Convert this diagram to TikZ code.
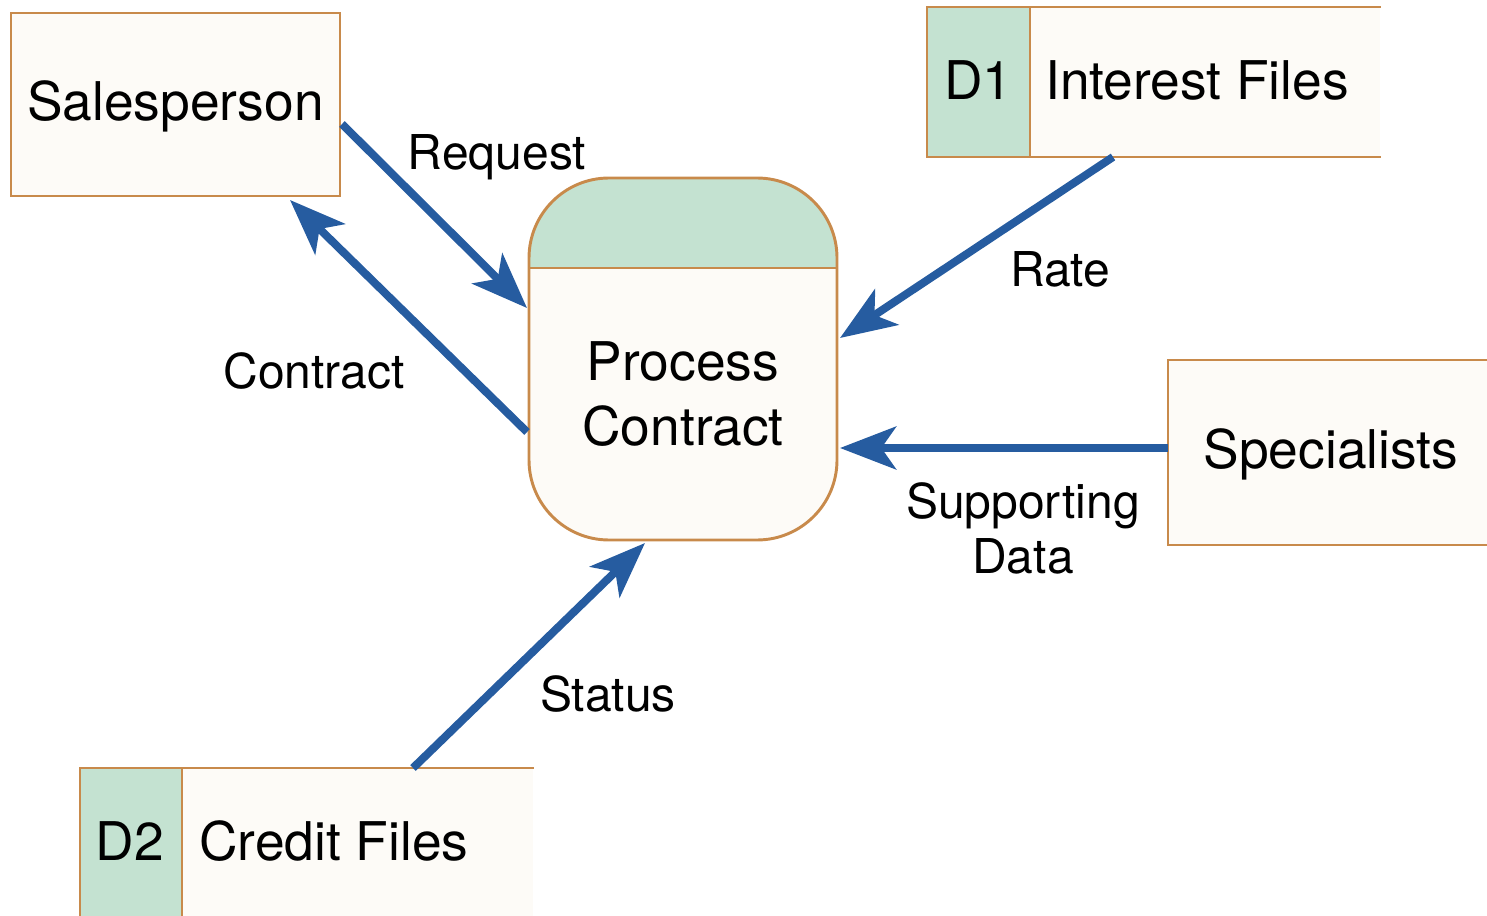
\documentclass[tikz,border=0pt]{standalone}
\usepackage{fontspec}
\setmainfont{TeX Gyre Heros}
\usetikzlibrary{arrows.meta}

\definecolor{boxline}{RGB}{200,138,75}
\definecolor{boxfill}{RGB}{253,251,247}
\definecolor{idfill}{RGB}{196,226,209}
\definecolor{flowblue}{RGB}{38,92,160}

\tikzset{
  big/.style={font=\fontsize{40}{48.75}\selectfont, inner sep=0pt, align=center},
  lbl/.style={font=\fontsize{36}{41.25}\selectfont, inner sep=0pt, align=center},
  flow/.style={draw=flowblue, line width=6pt, -{Stealth[length=42pt,width=32pt,inset=11pt]}},
  boxedge/.style={draw=boxline, line width=2.2pt},
}

\begin{document}
\begin{tikzpicture}[x=0.75pt,y=0.75pt,yscale=-1,xscale=1]
\useasboundingbox (0,0) rectangle (1487,916);
\clip (0,0) rectangle (1487,916);

%Shape: Rectangle [Salesperson]
\draw [boxedge, fill=boxfill] (11,13) rectangle (340,196);
%Shape: Rectangle [Specialists]
\draw [boxedge, fill=boxfill] (1168,360) rectangle (1510,545);
%Shape: Store [D1]
\fill [boxfill] (927,7) rectangle (1380,157);
\draw [boxedge, fill=idfill] (1030,7) -- (927,7) -- (927,157) -- (1030,157) -- cycle;
\draw [boxedge] (1030,7) -- (1381,7) (1030,157) -- (1381,157);
%Shape: Store [D2]
\fill [boxfill] (80,768) rectangle (533,940);
\draw [boxedge, fill=idfill] (182,940) -- (182,768) -- (80,768) -- (80,940);
\draw [boxedge] (182,768) -- (534,768);
%Shape: Process [rounded, green top]
\fill [boxfill, rounded corners=60pt] (529,178) rectangle (837,540);
\begin{scope}
  \clip (520,170) rectangle (845,268);
  \fill [idfill, rounded corners=60pt] (529,178) rectangle (837,540);
\end{scope}
\draw [boxedge, rounded corners=60pt] (529,178) rectangle (837,540);
\draw [boxedge] (529,268) -- (837,268);

% Text Node
\node [big, anchor=base] (sales) at (175.5,121) {Salesperson};
\node [big, anchor=base] (d1) at (978.5,100) {D1};
\node [big, anchor=base west] (interest) at (1045,100) {Interest Files};
\node [big, anchor=base] (proc) at (683,445) {Process\\Contract};
\node [big, anchor=base] (spec) at (1331,468) {Specialists};
\node [big, anchor=base] (d2) at (130,860) {D2};
\node [big, anchor=base west] (credit) at (199,860) {Credit Files};

% Flow labels
\node [lbl, anchor=base] (lreq) at (497,170) {Request};
\node [lbl, anchor=base] (lcon) at (314,388) {Contract};
\node [lbl, anchor=base] (lrate) at (1060,286) {Rate};
\node [lbl, anchor=base] (lsup) at (1023,573) {Supporting\\Data};
\node [lbl, anchor=base] (lstat) at (608,711) {Status};

% Flow ends
\coordinate (reqA) at (342,124);   \coordinate (reqB) at (527,308);
\coordinate (conA) at (527,432);   \coordinate (conB) at (290,200);
\coordinate (rateA) at (1113,157); \coordinate (rateB) at (840,338);
\coordinate (supA) at (1168,448);  \coordinate (supB) at (840,448);
\coordinate (statA) at (413,768);  \coordinate (statB) at (645,543);

%Flows
\draw [flow] (reqA) -- (reqB);
\draw [flow] (conA) -- (conB);
\draw [flow] (rateA) -- (rateB);
\draw [flow] (supA) -- (supB);
\draw [flow] (statA) -- (statB);

\end{tikzpicture}
\end{document}
